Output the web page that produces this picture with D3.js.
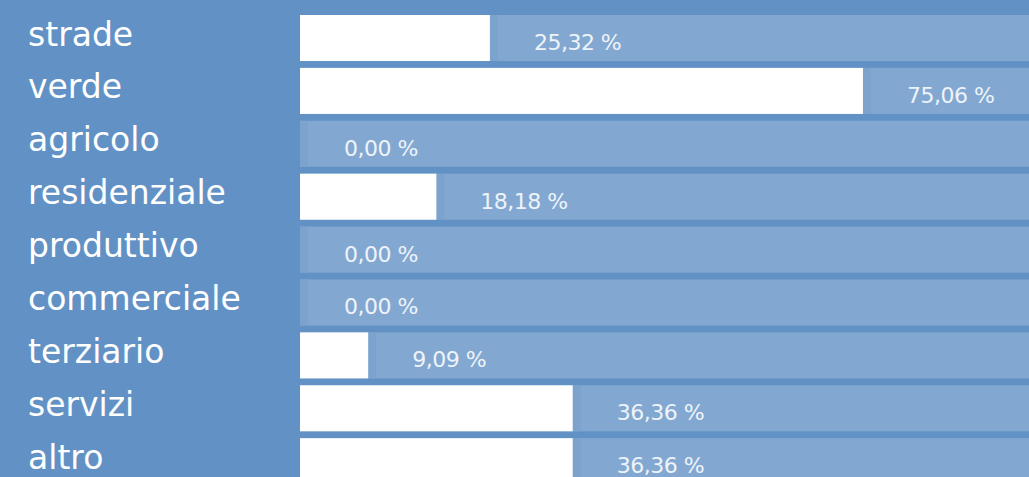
<!DOCTYPE html>
<html>
<head>
<meta charset="utf-8">
<script src="https://cdn.jsdelivr.net/npm/d3@7/dist/d3.min.js"></script>
<style>
  html, body { margin: 0; padding: 0; background: #6292c5; overflow: hidden; }
  svg { display: block; }
</style>
</head>
<body>
<svg id="chart" width="1029" height="477"></svg>
<script>
const categories = ["strade", "verde", "agricolo", "residenziale", "produttivo", "commerciale", "terziario", "servizi", "altro"];
const values = [25.32, 75.06, 0.00, 18.18, 0.00, 0.00, 9.09, 36.36, 36.36];
const valueLabels = ["25,32 %", "75,06 %", "0,00 %", "18,18 %", "0,00 %", "0,00 %", "9,09 %", "36,36 %", "36,36 %"];

const W = 1029, H = 477;
const svg = d3.select("#chart");

svg.append("rect").attr("x", 0).attr("y", 0).attr("width", W).attr("height", H).attr("fill", "#6292c5");

const x = d3.scaleLinear().domain([0, 100]).range([300, 1050]);
const y = d3.scaleBand().domain(categories).range([15, 484.2]).paddingInner(0.13).paddingOuter(0);

const data = categories.map((c, i) => ({ cat: c, value: values[i], label: valueLabels[i] }));

const rows = svg.selectAll("g.row").data(data).join("g").attr("class", "row");

// track
rows.append("rect")
  .attr("x", x(0))
  .attr("y", d => y(d.cat))
  .attr("width", W - x(0))
  .attr("height", y.bandwidth())
  .attr("fill", "#82a8d1");

// subtle shade after the bar
rows.append("rect")
  .attr("x", d => x(d.value))
  .attr("y", d => y(d.cat))
  .attr("width", 8)
  .attr("height", y.bandwidth())
  .attr("fill", "#7ba3ce");

// value bar
rows.append("rect")
  .attr("x", x(0))
  .attr("y", d => y(d.cat))
  .attr("width", d => x(d.value) - x(0))
  .attr("height", y.bandwidth())
  .attr("fill", "#ffffff");

// value labels
rows.append("text")
  .attr("x", d => x(d.value) + 44)
  .attr("y", d => y(d.cat) + 35)
  .attr("fill", "#eef3f9")
  .attr("font-family", "DejaVu Sans, sans-serif")
  .attr("font-size", 22)
  .attr("letter-spacing", -0.5)
  .text(d => d.label);

// category labels
rows.append("text")
  .attr("x", 28)
  .attr("y", d => y(d.cat) + 30.5)
  .attr("fill", "#ffffff")
  .attr("font-family", "DejaVu Sans, sans-serif")
  .attr("font-size", 33)
  .text(d => d.cat);
</script>
</body>
</html>
